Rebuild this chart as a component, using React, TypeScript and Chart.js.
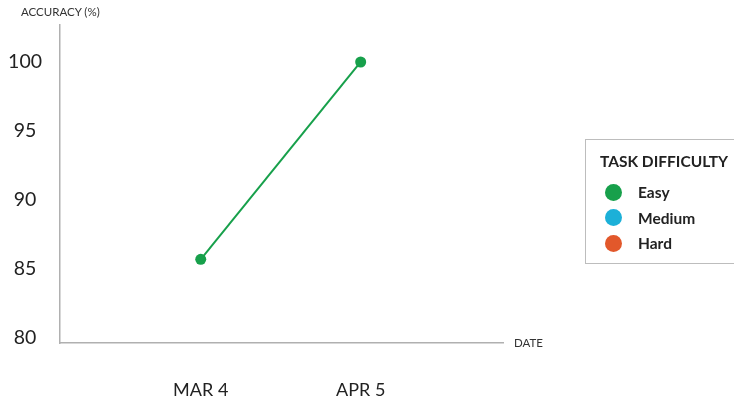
import React, { useEffect, useRef } from "react";
import { Chart, registerables } from "chart.js";

Chart.register(...registerables);

const categories = ["MAR 4", "APR 5"];
const easyValues = [85.7, 100];
const mediumValues: number[] = [];
const hardValues: number[] = [];
const yTickValues = [80, 85, 90, 95, 100];
const legendTitle = "TASK DIFFICULTY";
const seriesNames = ["Easy", "Medium", "Hard"];
const seriesColors = ["#17a04b", "#1cb0d8", "#e2582b"];

const FONT = "Lato, 'Open Sans', sans-serif";

export default function App() {
  const canvasRef = useRef<HTMLCanvasElement | null>(null);

  useEffect(() => {
    const canvas = canvasRef.current;
    if (!canvas) return;
    const chart = new Chart(canvas, {
      type: "line",
      data: {
        datasets: [
          {
            label: seriesNames[0],
            data: easyValues.map((v, i) => ({ x: i, y: v })),
            borderColor: seriesColors[0],
            backgroundColor: seriesColors[0],
            borderWidth: 2,
            pointRadius: 5.5,
            pointBorderWidth: 0,
          },
          {
            label: seriesNames[1],
            data: mediumValues.map((v, i) => ({ x: i, y: v })),
            borderColor: seriesColors[1],
            backgroundColor: seriesColors[1],
          },
          {
            label: seriesNames[2],
            data: hardValues.map((v, i) => ({ x: i, y: v })),
            borderColor: seriesColors[2],
            backgroundColor: seriesColors[2],
          },
        ],
      },
      options: {
        responsive: false,
        animation: false,
        devicePixelRatio: 1,
        layout: { padding: { top: 25, right: 231, left: 0, bottom: 0 } },
        plugins: { legend: { display: false }, tooltip: { enabled: false } },
        scales: {
          x: {
            type: "linear",
            min: -0.88,
            max: 1.89,
            afterBuildTicks: (scale: any) => {
              scale.ticks = categories.map((_, i) => ({ value: i }));
            },
            afterFit: (scale: any) => {
              scale.height = 60;
              scale.paddingLeft = 0;
              scale.paddingRight = 0;
            },
            grid: { display: true, drawOnChartArea: false, drawTicks: false },
            border: { display: true, color: "#b0b0b0", width: 1.5 },
            ticks: {
              padding: 36,
              color: "#222",
              font: { family: FONT, size: 18 },
              maxRotation: 0,
              callback: (v: any) => categories[Math.round(Number(v))] ?? "",
            },
          },
          y: {
            type: "linear",
            min: 79.64,
            max: 102.68,
            afterBuildTicks: (scale: any) => {
              scale.ticks = yTickValues.map((v) => ({ value: v }));
            },
            afterFit: (scale: any) => {
              scale.width = 60;
              scale.paddingTop = 0;
              scale.paddingBottom = 0;
            },
            grid: { display: true, drawOnChartArea: false, drawTicks: false },
            border: { display: true, color: "#b0b0b0", width: 1.5 },
            ticks: {
              padding: 18,
              crossAlign: "center",
              color: "#222",
              font: { family: FONT, size: 19.5 },
            },
          },
        },
      },
    } as any);
    return () => chart.destroy();
  }, []);

  return (
    <div
      style={{
        position: "fixed",
        left: 0,
        top: 0,
        width: 734,
        height: 403,
        background: "#fff",
        overflow: "hidden",
        fontFamily: FONT,
      }}
    >
      <canvas
        ref={canvasRef}
        width={734}
        height={403}
        style={{ position: "absolute", left: 0, top: 0, width: 734, height: 403 }}
      />
      <div
        style={{
          position: "absolute",
          left: 21,
          top: 5,
          fontSize: 11.5,
          color: "#333",
          whiteSpace: "nowrap",
          lineHeight: "14px",
        }}
      >
        ACCURACY (%)
      </div>
      <div
        style={{
          position: "absolute",
          left: 514,
          top: 336,
          fontSize: 11.5,
          color: "#333",
          whiteSpace: "nowrap",
          lineHeight: "14px",
        }}
      >
        DATE
      </div>
      <div
        style={{
          position: "absolute",
          left: 585,
          top: 139,
          width: 200,
          height: 125,
          border: "1px solid #bdbdbd",
          boxSizing: "border-box",
        }}
      >
        <div
          style={{
            position: "absolute",
            left: 14,
            top: 11,
            fontSize: 15.5,
            fontWeight: 700,
            color: "#222",
            whiteSpace: "nowrap",
            lineHeight: "20px",
          }}
        >
          {legendTitle}
        </div>
        {seriesNames.map((name, i) => (
          <div
            key={name}
            style={{
              position: "absolute",
              left: 19,
              top: 43 + i * 25.5,
              height: 18,
              display: "flex",
              alignItems: "center",
              whiteSpace: "nowrap",
            }}
          >
            <span
              style={{
                display: "inline-block",
                width: 17,
                height: 17,
                borderRadius: "50%",
                background: seriesColors[i],
              }}
            />
            <span
              style={{
                marginLeft: 16,
                fontSize: 15.5,
                fontWeight: 700,
                color: "#222",
              }}
            >
              {name}
            </span>
          </div>
        ))}
      </div>
    </div>
  );
}
